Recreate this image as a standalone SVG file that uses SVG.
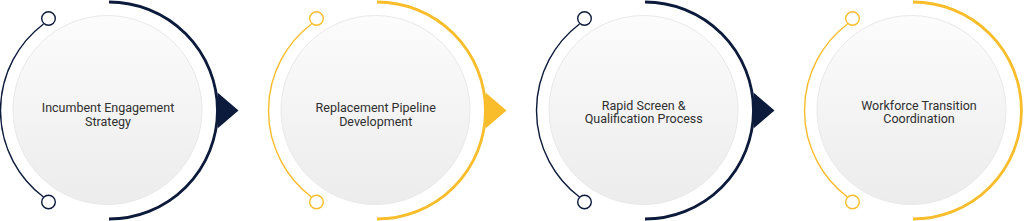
<svg xmlns="http://www.w3.org/2000/svg" width="1024" height="221" viewBox="0 0 1024 221">
  <defs>
    <linearGradient id="disc" x1="0" y1="0" x2="0" y2="1">
      <stop offset="0" stop-color="#fcfcfc"/>
      <stop offset="1" stop-color="#ececec"/>
    </linearGradient>
    <style>
      .disc { fill: url(#disc); stroke: #e9e9e9; stroke-width: 1; }
      .thick { fill: none; stroke-width: 2.8; }
      .thin { fill: none; stroke-width: 1.4; }
      .dot { fill: #ffffff; stroke-width: 1.4; }
      .navy .thick, .navy .thin, .navy .dot { stroke: #0c1a3b; }
      .navy .tri { fill: #0c1a3b; }
      .gold .thick, .gold .thin, .gold .dot { stroke: #f9bd2b; }
      .gold .tri { fill: #f9bd2b; }
      .label { font-family: Roboto, "Liberation Sans", sans-serif; font-size: 12.5px; fill: #2f2f2f; text-anchor: middle; }
    </style>
  </defs>

  <g id="connectors">
    <path class="tri" d="M217.5,92.5 L238.5,110.5 L217.5,128.5 Z" fill="#0c1a3b"/>
    <path class="tri" d="M485.5,92.5 L506.5,110.5 L485.5,128.5 Z" fill="#f9bd2b"/>
    <path class="tri" d="M753.5,92.5 L774.5,110.5 L753.5,128.5 Z" fill="#0c1a3b"/>
  </g>

  <g id="node1" class="navy">
    <circle class="disc" cx="107.5" cy="110" r="94.5"/>
    <path class="thick" d="M109,2 A108.5,108.5 0 0 1 109,219"/>
    <path class="thin" d="M43.5,24 A108.5,108.5 0 0 0 43.5,197"/>
    <circle class="dot" cx="48.5" cy="18.5" r="6.8"/>
    <circle class="dot" cx="48.5" cy="202" r="6.8"/>
    <text class="label" x="108" y="111.5">Incumbent Engagement</text>
    <text class="label" x="108" y="125.5">Strategy</text>
  </g>

  <g id="node2" class="gold">
    <circle class="disc" cx="375.5" cy="110" r="94.5"/>
    <path class="thick" d="M377,2 A108.5,108.5 0 0 1 377,219"/>
    <path class="thin" d="M311.5,24 A108.5,108.5 0 0 0 311.5,197"/>
    <circle class="dot" cx="316.5" cy="18.5" r="6.8"/>
    <circle class="dot" cx="316.5" cy="202" r="6.8"/>
    <text class="label" x="375.7" y="111.5">Replacement Pipeline</text>
    <text class="label" x="375.7" y="125.5">Development</text>
  </g>

  <g id="node3" class="navy">
    <circle class="disc" cx="643.5" cy="110" r="94.5"/>
    <path class="thick" d="M645,2 A108.5,108.5 0 0 1 645,219"/>
    <path class="thin" d="M579.5,24 A108.5,108.5 0 0 0 579.5,197"/>
    <circle class="dot" cx="584.5" cy="18.5" r="6.8"/>
    <circle class="dot" cx="584.5" cy="202" r="6.8"/>
    <text class="label" x="643.7" y="109.5">Rapid Screen &amp;</text>
    <text class="label" x="643.7" y="123">Qualification Process</text>
  </g>

  <g id="node4" class="gold">
    <circle class="disc" cx="911.5" cy="110" r="94.5"/>
    <path class="thick" d="M913,2 A108.5,108.5 0 0 1 913,219"/>
    <path class="thin" d="M847.5,24 A108.5,108.5 0 0 0 847.5,197"/>
    <circle class="dot" cx="852.5" cy="18.5" r="6.8"/>
    <circle class="dot" cx="852.5" cy="202" r="6.8"/>
    <text class="label" x="919" y="109.5">Workforce Transition</text>
    <text class="label" x="919" y="123">Coordination</text>
  </g>
</svg>
